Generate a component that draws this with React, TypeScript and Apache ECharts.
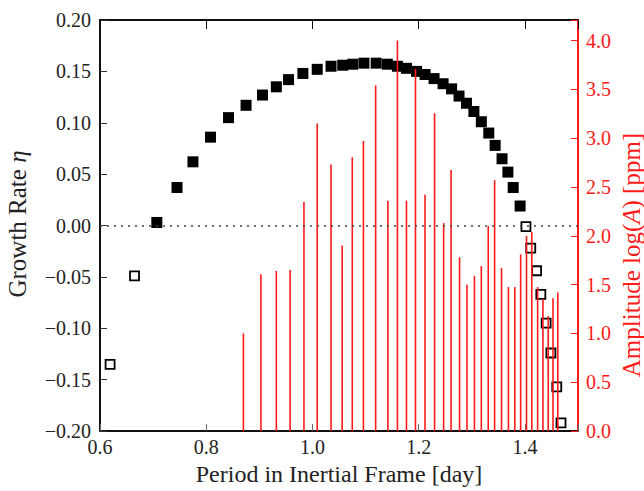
import React, { useEffect, useRef } from "react";
import * as echarts from "echarts";

// Growth rate (filled = unstable, hollow = stable)
const filledPeriods = [0.707, 0.745, 0.775, 0.808, 0.842, 0.875, 0.906, 0.932, 0.955, 0.982, 1.009, 1.035, 1.057, 1.076, 1.097, 1.12, 1.141, 1.16, 1.177, 1.196, 1.212, 1.229, 1.246, 1.262, 1.276, 1.29, 1.304, 1.318, 1.332, 1.344, 1.357, 1.368, 1.378, 1.391];
const filledGrowth = [0.003, 0.037, 0.062, 0.086, 0.105, 0.117, 0.127, 0.135, 0.142, 0.148, 0.152, 0.155, 0.156, 0.157, 0.158, 0.158, 0.157, 0.155, 0.153, 0.15, 0.147, 0.143, 0.138, 0.133, 0.126, 0.119, 0.111, 0.101, 0.09, 0.078, 0.065, 0.052, 0.037, 0.019];
const hollowPeriods = [0.619, 0.665, 1.402, 1.411, 1.422, 1.43, 1.44, 1.449, 1.46, 1.468];
const hollowGrowth = [-0.135, -0.049, -0.001, -0.022, -0.044, -0.067, -0.095, -0.124, -0.157, -0.192];

// Amplitude stems
const stemPeriods = [0.87, 0.903, 0.932, 0.958, 0.984, 1.009, 1.035, 1.056, 1.075, 1.096, 1.119, 1.142, 1.16, 1.177, 1.194, 1.212, 1.23, 1.247, 1.261, 1.277, 1.291, 1.305, 1.318, 1.331, 1.343, 1.356, 1.369, 1.381, 1.392, 1.403, 1.413, 1.424, 1.434, 1.444, 1.453, 1.462];
const stemAmplitudes = [1.0, 1.605, 1.64, 1.65, 2.345, 3.15, 2.73, 1.9, 2.805, 2.97, 3.54, 2.36, 4.0, 2.36, 3.71, 2.42, 3.255, 2.13, 2.675, 1.78, 1.5, 1.59, 1.69, 2.1, 2.57, 1.67, 1.475, 1.475, 1.81, 2.0, 2.04, 1.475, 1.35, 1.18, 1.36, 1.42];

const xTitle = "Period in Inertial Frame [day]";
const leftTitle = "Growth Rate ";
const leftTitleSymbol = "η";
const rightTitlePre = "Amplitude log(";
const rightTitleSymbol = "A";
const rightTitlePost = ") [ppm]";

const FONT = "Liberation Serif";
const RED = "#ff1a1a";

export default function App() {
  const ref = useRef<HTMLDivElement>(null);
  useEffect(() => {
    if (!ref.current) return;
    const chart = echarts.init(ref.current, null, { renderer: "svg" });
    const fmtLeft = (v: number) => {
      if (Math.abs(v) < 1e-9) return "0.00";
      const s = Math.abs(v).toFixed(2);
      return v < 0 ? "\u2212" + s : s;
    };
    const option: any = {
      animation: false,
      backgroundColor: "#ffffff",
      grid: { left: 100, right: 66, top: 20, bottom: 59, containLabel: false },
      xAxis: [
        {
          type: "value",
          min: 0.6,
          max: 1.5,
          interval: 0.2,
          name: xTitle,
          nameLocation: "middle",
          nameGap: 27,
          nameTextStyle: { fontFamily: FONT, fontSize: 24, color: "#222" },
          axisLine: { show: true, onZero: false, lineStyle: { color: "#111", width: 2 } },
          axisTick: { show: true, inside: true, length: 7, lineStyle: { color: "#666", width: 1 } },
          axisLabel: {
            margin: 6,
            fontFamily: FONT,
            fontSize: 20,
            color: "#222",
            formatter: (v: number) => (v > 1.45 ? "" : v.toFixed(1)),
          },
          splitLine: { show: false },
        },
        {
          type: "value",
          position: "top",
          min: 0.6,
          max: 1.5,
          interval: 0.2,
          axisLine: { show: true, onZero: false, lineStyle: { color: "#111", width: 2 } },
          axisTick: { show: true, inside: true, length: 9, lineStyle: { color: "#111", width: 1 } },
          axisLabel: { show: false },
          splitLine: { show: false },
        },
      ],
      yAxis: [
        {
          type: "value",
          min: -0.2,
          max: 0.2,
          interval: 0.05,
          axisLine: { show: true, onZero: false, lineStyle: { color: "#111", width: 2 } },
          axisTick: { show: true, inside: true, length: 7, lineStyle: { color: "#333", width: 1 } },
          axisLabel: { margin: 9, fontFamily: FONT, fontSize: 20, color: "#222", formatter: fmtLeft },
          splitLine: { show: false },
        },
        {
          type: "value",
          position: "right",
          min: 0,
          max: 4.21,
          interval: 0.5,
          alignTicks: false,
          axisLine: { show: true, onZero: false, lineStyle: { color: RED, width: 2 } },
          axisTick: { show: true, inside: true, length: 7, lineStyle: { color: RED, width: 1 } },
          axisLabel: {
            margin: 8,
            fontFamily: FONT,
            fontSize: 20,
            color: RED,
            formatter: (v: number) => (v > 4.05 ? "" : v.toFixed(1)),
          },
          splitLine: { show: false },
        },
      ],
      graphic: [
        {
          type: "text",
          x: 17,
          y: 224,
          rotation: Math.PI / 2,
          style: {
            text: leftTitle + "{i|" + leftTitleSymbol + "}",
            fontFamily: FONT,
            fontSize: 25,
            fill: "#222",
            align: "center",
            verticalAlign: "middle",
            rich: { i: { fontFamily: FONT, fontSize: 25, fontStyle: "italic", fill: "#222" } },
          },
        },
        {
          type: "text",
          x: 631,
          y: 255,
          rotation: Math.PI / 2,
          style: {
            text: rightTitlePre + "{i|" + rightTitleSymbol + "}" + rightTitlePost,
            fontFamily: FONT,
            fontSize: 25,
            fill: RED,
            align: "center",
            verticalAlign: "middle",
            rich: { i: { fontFamily: FONT, fontSize: 25, fontStyle: "italic", fill: RED } },
          },
        },
      ],
      series: [
        {
          type: "scatter",
          name: "unstable",
          xAxisIndex: 0,
          yAxisIndex: 0,
          symbol: "rect",
          symbolSize: 11,
          itemStyle: { color: "#000", opacity: 1 },
          data: filledPeriods.map((p, i) => [p, filledGrowth[i]]),
          markLine: {
            silent: true,
            symbol: "none",
            label: { show: false },
            lineStyle: { color: "#444", type: [2, 5], width: 1.6 },
            data: [{ yAxis: 0 }],
          },
          z: 2,
        },
        {
          type: "scatter",
          name: "stable",
          xAxisIndex: 0,
          yAxisIndex: 0,
          symbol: "rect",
          symbolSize: 9,
          itemStyle: { color: "#fff", borderColor: "#000", borderWidth: 1.8, opacity: 1 },
          data: hollowPeriods.map((p, i) => [p, hollowGrowth[i]]),
          z: 2,
        },
        {
          type: "custom",
          name: "amplitude",
          xAxisIndex: 0,
          yAxisIndex: 1,
          encode: { x: 0, y: 1 },
          data: stemPeriods.map((p, i) => [p, stemAmplitudes[i]]),
          renderItem: (params: any, api: any) => {
            const x = api.value(0);
            const y = api.value(1);
            const p0 = api.coord([x, 0]);
            const p1 = api.coord([x, y]);
            return {
              type: "line",
              shape: { x1: p0[0], y1: p0[1], x2: p1[0], y2: p1[1] },
              style: { stroke: RED, lineWidth: 1.6 },
            };
          },
          z: 3,
        },
      ],
    };
    chart.setOption(option);
    return () => chart.dispose();
  }, []);
  return <div ref={ref} style={{ width: 644, height: 491, position: "absolute", left: 0, top: 0 }} />;
}
